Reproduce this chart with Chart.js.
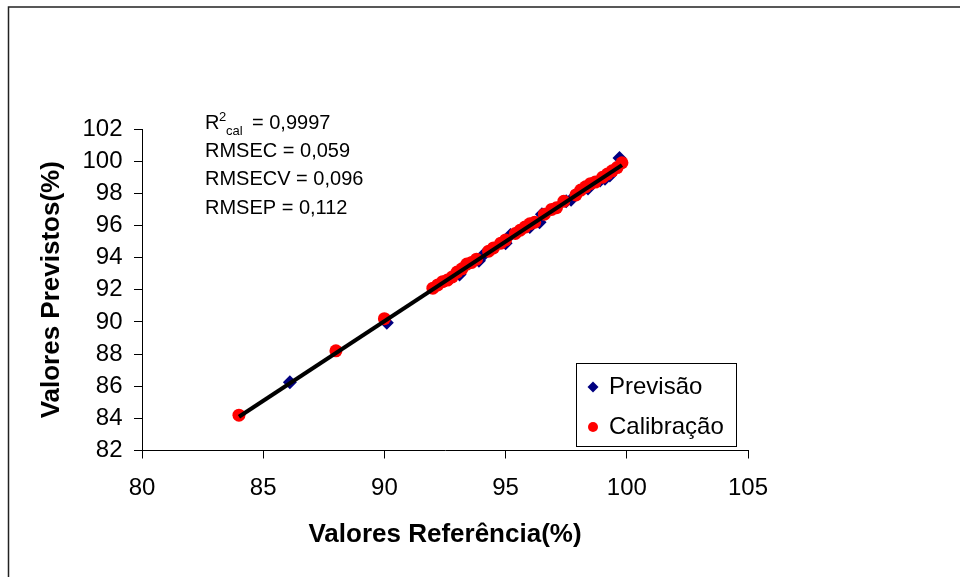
<!DOCTYPE html>
<html>
<head>
<meta charset="utf-8">
<script src="https://cdn.jsdelivr.net/npm/chart.js@4/dist/chart.umd.min.js"></script>
<style>
  body { margin: 0; background: #fff; }
</style>
</head>
<body>
<canvas id="myChart" width="960" height="577"></canvas>
<script>
// Calibração (red circles)
var calX = [84.0, 88.0, 90.0, 92.0, 92.2, 92.4, 92.6, 92.8, 93.0, 93.2, 93.4, 93.6, 93.8, 94.3, 94.5, 94.8, 95.0, 95.4, 95.6, 95.8, 96.0, 96.2, 96.6, 96.9, 97.1, 97.4, 97.9, 98.1, 98.3, 98.5, 98.7, 99.0, 99.2, 99.4, 99.6, 99.8];
var calY = [84.2, 88.2, 90.2, 92.1, 92.3, 92.5, 92.6, 92.8, 93.1, 93.3, 93.6, 93.7, 93.9, 94.4, 94.6, 94.9, 95.1, 95.5, 95.7, 95.9, 96.1, 96.2, 96.7, 97.0, 97.1, 97.5, 97.9, 98.2, 98.4, 98.6, 98.7, 99.0, 99.2, 99.4, 99.6, 99.9];
// Previsão (blue diamonds)
var prevX = [86.1, 90.1, 92.8, 93.1, 93.9, 94.1, 95.0, 95.2, 96.0, 96.4, 96.5, 97.5, 97.7, 98.4, 98.9, 99.1, 99.3, 99.7];
var prevY = [86.25, 89.95, 92.8, 92.95, 93.8, 94.2, 94.9, 95.4, 95.9, 96.2, 96.7, 97.5, 97.6, 98.3, 98.8, 98.9, 99.1, 100.2];
// regression line ends
var fitX = [84.0, 99.8];
var fitY = [84.1, 99.75];

var xMin = 80, xMax = 105, xStep = 5;
var yMin = 82, yMax = 102, yStep = 2;

var stats = ["= 0,9997", "RMSEC = 0,059", "RMSECV = 0,096", "RMSEP = 0,112"];

function toPoints(xs, ys){
  return xs.map((x, i) => ({x: x, y: ys[i]}));
}

var FONT = "'Liberation Sans', Arial, sans-serif";

// outer frame, stats text and the legend box
var extras = {
  id: "extras",
  beforeDraw(chart){
    let c = chart.ctx;
    c.save();
    c.fillStyle = "#fff";
    c.fillRect(0, 0, chart.width, chart.height);
    c.strokeStyle = "#222";
    c.lineWidth = 1.5;
    c.strokeRect(8.5, 7, 1000, 1000);
    c.restore();
  },
  afterDraw(chart){
    let c = chart.ctx;
    c.save();
    c.fillStyle = "#000";
    c.textBaseline = "alphabetic";
    c.textAlign = "left";
    // R²cal line
    c.font = "20px " + FONT;
    c.fillText("R", 205, 128.5);
    c.font = "13px " + FONT;
    c.fillText("2", 219, 121);
    c.fillText("cal", 226, 135);
    c.font = "20px " + FONT;
    c.fillText(stats[0], 252, 128.5);
    c.fillText(stats[1], 205, 157);
    c.fillText(stats[2], 205, 185);
    c.fillText(stats[3], 205, 213.5);

    // legend
    c.fillStyle = "#fff";
    c.fillRect(576.5, 363.5, 160, 83);
    c.strokeStyle = "#000";
    c.lineWidth = 1;
    c.strokeRect(576.5, 363.5, 160, 83);
    let items = [chart.data.datasets[2], chart.data.datasets[1]];
    let rows = [387, 427];
    items.forEach((ds, i) => {
      let y = rows[i];
      c.fillStyle = ds.backgroundColor;
      c.beginPath();
      if (ds.pointStyle === "rectRot") {
        c.moveTo(593, y - 5.5);
        c.lineTo(598.5, y);
        c.lineTo(593, y + 5.5);
        c.lineTo(587.5, y);
        c.closePath();
      } else {
        c.arc(593, y, 5, 0, Math.PI * 2);
      }
      c.fill();
      c.fillStyle = "#000";
      c.font = "24px " + FONT;
      c.textBaseline = "middle";
      c.fillText(ds.label, 609, y);
    });
    c.restore();
  }
};

var ctx = document.getElementById("myChart").getContext("2d");
var myChart = new Chart(ctx, {
  type: "scatter",
  data: {
    datasets: [{
      label: "fit",
      type: "line",
      data: toPoints(fitX, fitY),
      borderColor: "#000",
      borderWidth: 4,
      pointRadius: 0,
      fill: false
    },{
      label: "Calibração",
      data: toPoints(calX, calY),
      backgroundColor: "#ff0000",
      borderColor: "#ff0000",
      borderWidth: 0,
      pointStyle: "circle",
      pointRadius: 6.5
    },{
      label: "Previsão",
      data: toPoints(prevX, prevY),
      backgroundColor: "#000080",
      borderColor: "#000080",
      borderWidth: 0,
      pointStyle: "rectRot",
      pointRadius: 7
    }]
  },
  options: {
    responsive: false,
    animation: false,
    layout: { padding: { left: 0, right: 212, top: 129, bottom: 0 } },
    plugins: {
      legend: { display: false },
      tooltip: { enabled: false }
    },
    scales: {
      x: {
        type: "linear",
        min: xMin, max: xMax,
        ticks: { stepSize: xStep, color: "#000", padding: 15, font: { family: FONT, size: 24 } },
        grid: { display: true, drawOnChartArea: false, drawTicks: true, tickLength: 8, color: "#000" },
        border: { display: true, color: "#000", width: 1 },
        title: {
          display: true, text: "Valores Referência(%)", color: "#000",
          font: { family: FONT, size: 26, weight: "bold" },
          padding: { top: 0, bottom: 27 }
        },
        afterFit(s){ s.height = 126.5; }
      },
      y: {
        type: "linear",
        min: yMin, max: yMax,
        ticks: { stepSize: yStep, color: "#000", padding: 11.5, font: { family: FONT, size: 24 } },
        grid: { display: true, drawOnChartArea: false, drawTicks: true, tickLength: 8, color: "#000" },
        border: { display: true, color: "#000", width: 1 },
        title: {
          display: true, text: "Valores Previstos(%)", color: "#000",
          font: { family: FONT, size: 26, weight: "bold" },
          padding: { top: 36, bottom: 0 }
        },
        afterFit(s){ s.width = 142; }
      }
    }
  },
  plugins: [extras]
});
</script>
</body>
</html>
